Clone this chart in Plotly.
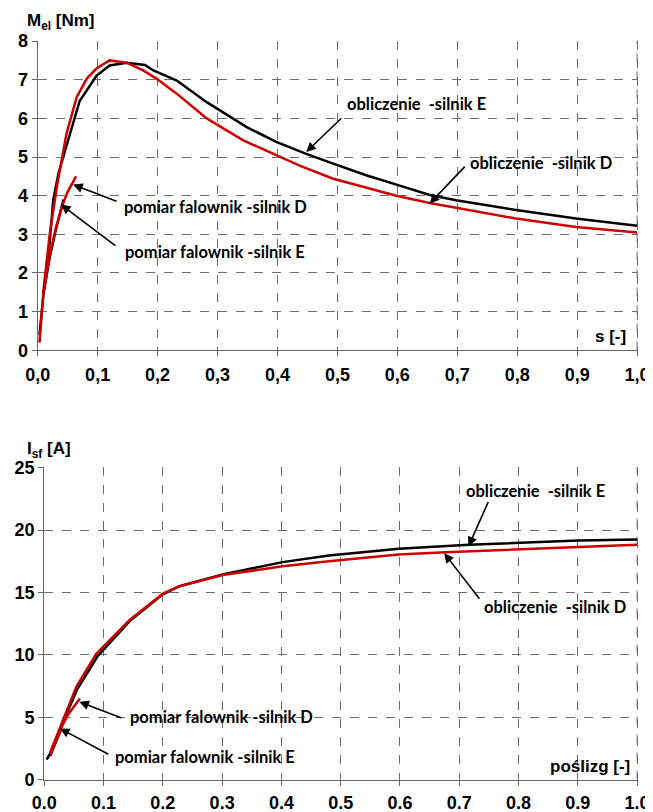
import plotly.graph_objects as go

# ---------------- data: top chart (torque vs slip) ----------------
s_obl_E = [0.003, 0.01, 0.02, 0.026, 0.035, 0.048, 0.07, 0.098, 0.12, 0.148, 0.179, 0.193, 0.232, 0.282,
           0.348, 0.398, 0.448, 0.493, 0.548, 0.6, 0.654, 0.698, 0.798, 0.898, 1.0]
M_obl_E = [0.4, 1.5, 2.8, 3.9, 4.6, 5.3, 6.45, 7.1, 7.37, 7.44, 7.38, 7.24, 6.98, 6.42,
           5.78, 5.39, 5.08, 4.83, 4.53, 4.28, 4.02, 3.88, 3.63, 3.41, 3.22]

s_obl_D = [0.003, 0.01, 0.02, 0.032, 0.048, 0.065, 0.082, 0.098, 0.12, 0.148, 0.176, 0.198, 0.232, 0.282,
           0.343, 0.398, 0.437, 0.493, 0.55, 0.6, 0.654, 0.798, 0.898, 1.0]
M_obl_D = [0.2, 1.6, 3.0, 4.23, 5.6, 6.55, 7.03, 7.29, 7.5, 7.44, 7.24, 7.03, 6.64, 6.0,
           5.43, 5.05, 4.78, 4.44, 4.2, 3.99, 3.81, 3.41, 3.19, 3.05]

s_pom_D = [0.01, 0.02, 0.03, 0.04, 0.05, 0.064]
M_pom_D = [1.5, 2.45, 3.15, 3.7, 4.1, 4.5]

s_pom_E = [0.01, 0.02, 0.03, 0.043]
M_pom_E = [1.5, 2.4, 3.1, 3.9]

# ---------------- data: bottom chart (current vs slip) ----------------
s2_obl_E = [0.004, 0.01, 0.03, 0.055, 0.09, 0.122, 0.144, 0.2, 0.228, 0.301, 0.402, 0.48, 0.598, 0.716, 0.901, 1.0]
I_obl_E = [1.6, 2.1, 4.4, 7.2, 9.9, 11.6, 12.7, 14.85, 15.5, 16.45, 17.43, 17.97, 18.5, 18.82, 19.17, 19.25]

s2_obl_D = [0.01, 0.032, 0.054, 0.088, 0.122, 0.144, 0.2, 0.228, 0.301, 0.402, 0.48, 0.598, 0.677, 0.901, 1.0]
I_obl_D = [2.2, 4.77, 7.43, 10.1, 11.75, 12.8, 14.9, 15.5, 16.4, 17.1, 17.5, 18.05, 18.23, 18.63, 18.82]

s2_pom_D = [0.01, 0.02, 0.03, 0.04, 0.05, 0.06]
I_pom_D = [2.0, 3.2, 4.3, 5.2, 5.9, 6.5]

s2_pom_E = [0.01, 0.02, 0.029]
I_pom_E = [1.9, 3.1, 4.1]

# ---------------- ticks ----------------
x_ticks = [0.0, 0.1, 0.2, 0.3, 0.4, 0.5, 0.6, 0.7, 0.8, 0.9, 1.0]
x_ticktext_top = ["0,0", "0,1", "0,2", "0,3", "0,4", "0,5", "0,6", "0,7", "0,8", "0,9", "1,0"]
x_max = 1.0

RED = "#cc0000"
BLACK = "#000000"
GRID = "#6e6e6e"

fig = go.Figure()

def line(x, y, color, xa, ya):
    fig.add_trace(go.Scatter(x=x, y=y, mode="lines", line=dict(color=color, width=2.5),
                             xaxis=xa, yaxis=ya, showlegend=False, hoverinfo="skip"))

line(s_obl_E, M_obl_E, BLACK, "x", "y")
line(s_obl_D, M_obl_D, RED, "x", "y")
line(s_pom_E, M_pom_E, BLACK, "x", "y")
line(s_pom_D, M_pom_D, RED, "x", "y")

line(s2_obl_E, I_obl_E, BLACK, "x2", "y2")
line(s2_obl_D, I_obl_D, RED, "x2", "y2")
line(s2_pom_E, I_pom_E, BLACK, "x2", "y2")
line(s2_pom_D, I_pom_D, RED, "x2", "y2")

tickfont = dict(family="Liberation Sans, Arial", size=18, color="#000", weight="bold")
common = dict(showgrid=True, gridcolor=GRID, griddash="dash", gridwidth=1,
              showline=True, linecolor="#666", linewidth=1.3,
              ticks="outside", ticklen=5, tickcolor="#666", tickfont=tickfont,
              zeroline=False, automargin=False, ticklabeloverflow="allow")

# the page body adds an 8px offset; domains are placed to compensate
fig.update_layout(
    width=653, height=812,
    margin=dict(l=0, r=0, t=0, b=0),
    paper_bgcolor="white", plot_bgcolor="white",
    xaxis=dict(domain=[0.04548, 0.96524], range=[0, 1.002], tickvals=x_ticks, ticktext=x_ticktext_top,
               anchor="y", ticklabelstandoff=3, **common),
    yaxis=dict(domain=[0.57845, 0.95973], range=[0, 8.01], dtick=1, anchor="x", **common),
    xaxis2=dict(domain=[0.05559, 0.96524], range=[0, 1.002], tickvals=x_ticks, tickformat=".1f",
                anchor="y2", ticklabelstandoff=2, **common),
    yaxis2=dict(domain=[0.04975, 0.43436], range=[0, 25.03], dtick=5, anchor="x2", **common),
)

# dashed grid line at the right edge (x = 1.0), drawn under the curves
for xr, yr in (("x", "y domain"), ("x2", "y2 domain")):
    fig.add_shape(type="line", xref=xr, yref=yr, x0=x_max, x1=x_max, y0=0, y1=1,
                  line=dict(color=GRID, width=1, dash="dash"), layer="below")

lab_font = dict(family="Lato, Calibri, sans-serif", size=16.5, color="#000")
title_font = dict(family="Liberation Sans, Arial", size=17, color="#000")

def label(text, x, y, xref, yref):
    fig.add_annotation(text="<b>" + text + "</b>", x=x, y=y, xref=xref, yref=yref,
                       xanchor="left", yanchor="middle", showarrow=False, font=lab_font)

def arrow(x0, y0, x1, y1, xref, yref):
    fig.add_annotation(text="", x=x1, y=y1, ax=x0, ay=y0, xref=xref, yref=yref,
                       axref=xref, ayref=yref, showarrow=True, arrowhead=2, arrowsize=1.2,
                       arrowwidth=1.6, arrowcolor="#000")

# top chart labels
label("obliczenie\u00a0 -silnik E", 0.5125, 6.38, "x", "y")
arrow(0.509, 6.04, 0.448, 5.13, "x", "y")
label("obliczenie\u00a0 -silnik D", 0.7177, 4.85, "x", "y")
arrow(0.715, 4.79, 0.654, 3.80, "x", "y")
label("pomiar falownik -silnik D", 0.14, 3.71, "x", "y")
arrow(0.134, 3.84, 0.059, 4.29, "x", "y")
label("pomiar falownik -silnik E", 0.1427, 2.55, "x", "y")
arrow(0.132, 2.68, 0.0388, 3.77, "x", "y")

# bottom chart labels
label("obliczenie\u00a0 -silnik E", 0.708, 23.17, "x2", "y2")
arrow(0.750, 22.37, 0.7155, 18.69, "x2", "y2")
label("obliczenie\u00a0 -silnik D", 0.739, 13.83, "x2", "y2")
arrow(0.736, 14.37, 0.6746, 18.15, "x2", "y2")
label("pomiar falownik -silnik D", 0.1414, 5.03, "x2", "y2")
arrow(0.133, 4.9, 0.059, 6.23, "x2", "y2")
label("pomiar falownik -silnik E", 0.116, 1.78, "x2", "y2")
arrow(0.1106, 1.97, 0.0264, 4.1, "x2", "y2")

# axis titles
fig.add_annotation(text="<b>M<sub>el</sub> [Nm]</b>", x=0.02603, y=0.98313, xref="paper", yref="paper",
                   xanchor="left", yanchor="middle", showarrow=False, font=title_font)
fig.add_annotation(text="<b>I<sub>sf</sub> [A]</b>", x=0.02603, y=0.45567, xref="paper", yref="paper",
                   xanchor="left", yanchor="middle", showarrow=False, font=title_font)
fig.add_annotation(text="<b>s [-]</b>", x=0.94946, y=0.59483, xref="paper", yref="paper",
                   xanchor="right", yanchor="middle", showarrow=False, font=title_font)
fig.add_annotation(text="<b>poślizg [-]</b>", x=0.95513, y=0.0665, xref="paper", yref="paper",
                   xanchor="right", yanchor="middle", showarrow=False, font=title_font)

fig.write_html("out.html")
